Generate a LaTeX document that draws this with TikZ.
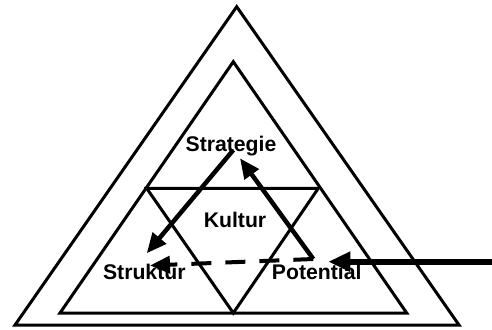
\documentclass[tikz,border=0pt]{standalone}
\usepackage{fontspec}
\setmainfont{Liberation Sans}
\usetikzlibrary{arrows.meta}
\begin{document}
\begin{tikzpicture}[x=1pt,y=-1pt,
  tri/.style={draw=black,line width=3pt,line join=miter},
  lbl/.style={font=\bfseries\fontsize{21.2}{24}\selectfont,inner sep=0pt,anchor=base},
  arr/.style={line width=4.5pt,-{Triangle[length=20pt,width=17pt]}},
  darr/.style={line width=4pt,dash pattern=on 20pt off 14pt,-{Triangle[length=20pt,width=17pt]}},
  bigarr/.style={line width=6pt,-{Triangle[length=22pt,width=19pt]}}]
\useasboundingbox (0,0) rectangle (492,329);
% outer triangle
\draw[tri] (236.7,6.7) -- (459,325) -- (15,325) -- cycle;
% inner triangle
\draw[tri] (233.3,61.7) -- (406.7,313) -- (60,313) -- cycle;
% inverted triangle
\draw[tri] (146.7,188.3) -- (318.3,188.3) -- (233.3,313) -- cycle;
% labels
\node[lbl] (s) at (231,151.7) {Strategie};
\node[lbl] (k) at (235,227.7) {Kultur};
\node[lbl] (st) at (144.3,279.3) {Struktur};
\node[lbl] (p) at (316.7,279.3) {Potential};
% arrow endpoints
\coordinate (sA) at (233.3,150);
\coordinate (stA) at (146.7,253.3);
\coordinate (pA) at (313.3,259);
\coordinate (sB) at (240,158.3);
\coordinate (stB) at (150,265.5);
\coordinate (pIn) at (328.3,261.7);
\coordinate (ext) at (492,261.7);
\draw[arr] (sA) -- (stA);
\draw[arr] (pA) -- (sB);
\draw[darr] (pA) -- (stB);
\draw[bigarr] (ext) -- (pIn);
\end{tikzpicture}
\end{document}
